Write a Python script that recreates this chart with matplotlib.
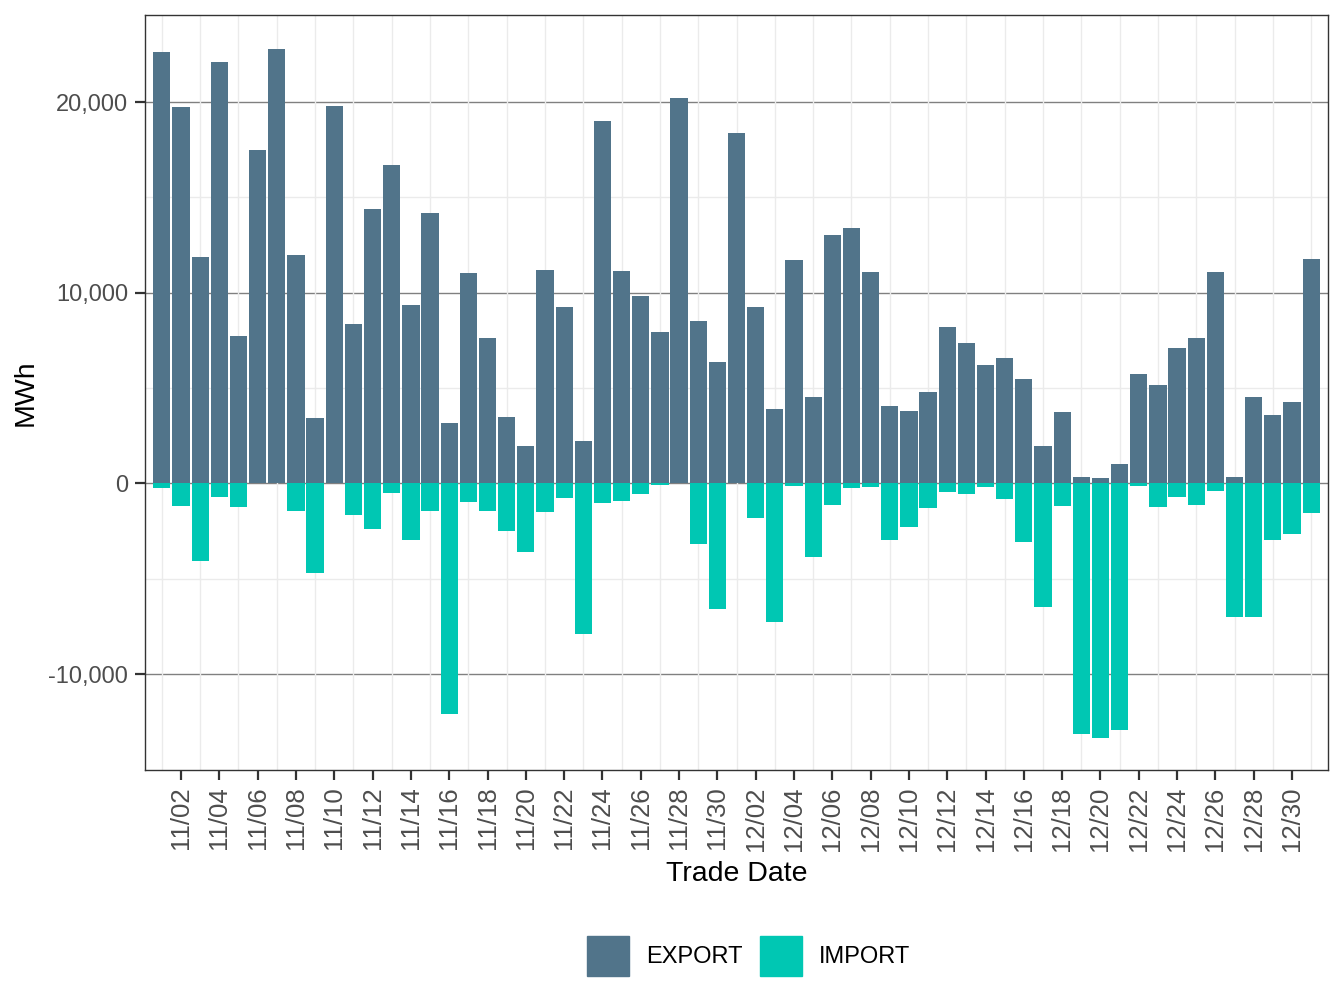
import numpy as np
import matplotlib
matplotlib.use("Agg")
import matplotlib.pyplot as plt
import matplotlib.patches as mpatches
import pandas as pd

plt.rcParams['font.family'] = ['Liberation Sans', 'DejaVu Sans']

# trade dates 11/01 .. 12/31
dates = pd.date_range("2020-11-01", "2020-12-31", freq="D")

# net export per day (MWh)
export_mwh = [
    22620, 19740, 11870, 22100, 7730, 17480, 22780, 11970, 3420, 19790,
    8360, 14390, 16690, 9360, 14180, 3160, 11030, 7620, 3470, 1950,
    11190, 9250, 2220, 19000, 11140, 9830, 7940, 20210, 8520, 6370,
    18370, 9250, 3900, 11710, 4530, 13030, 13390, 11090, 4060, 3800,
    4790, 8200, 7360, 6200, 6570, 5470, 1950, 3750, 330, 280,
    1010, 5730, 5160, 7100, 7620, 11090, 330, 4530, 3580, 4260,
    11760,
]

# net import per day (MWh, negative)
import_mwh = [
    -230, -1170, -4060, -700, -1230, 0, 0, -1440, -4690, 0,
    -1650, -2380, -490, -2960, -1440, -12080, -960, -1440, -2490, -3590,
    -1490, -750, -7890, -1020, -910, -550, -70, 0, -3170, -6580,
    0, -1800, -7260, -120, -3850, -1120, -230, -180, -2960, -2280,
    -1280, -440, -540, -180, -810, -3060, -6470, -1170, -13130, -13340,
    -12920, -120, -1230, -700, -1120, -390, -7000, -7000, -2960, -2640,
    -1540,
]

export_color = "#51748A"
import_color = "#00C7B3"

x = np.arange(len(dates))
tick_pos = x[1::2]
tick_labels = [d.strftime("%m/%d") for d in dates[1::2]]

fig = plt.figure(figsize=(13.44, 10.08), dpi=100)
ax = fig.add_axes([0.1079, 0.2361, 0.8802, 0.749])

# grid, ggplot style
for yv in [-5000, 5000, 15000]:
    ax.axhline(yv, color="#EBEBEB", lw=1.0, zorder=0)
for yv in [-10000, 0, 10000, 20000]:
    ax.axhline(yv, color="#808080", lw=1.0, zorder=0)
for xv in x[0::2]:
    ax.axvline(xv, color="#EBEBEB", lw=1.0, zorder=0)

ax.bar(x, export_mwh, width=0.9, color=export_color, zorder=2)
ax.bar(x, import_mwh, width=0.9, color=import_color, zorder=2)

ax.set_xlim(-0.88, len(dates) - 1 + 0.88)
ax.set_ylim(-15030, 24570)

ax.set_xticks(tick_pos)
ax.set_xticklabels(tick_labels, rotation=90, fontsize=18.5, color="#4D4D4D")
ax.set_yticks([-10000, 0, 10000, 20000])
ax.set_yticklabels(["-10,000", "0", "10,000", "20,000"], fontsize=17, color="#4D4D4D")
ax.tick_params(axis="both", length=7, width=1.6, color="#333333", pad=5)

for s in ax.spines.values():
    s.set_color("#333333")
    s.set_linewidth(1.0)

ax.set_xlabel("Trade Date", fontsize=20.5, labelpad=7)
ax.set_ylabel("MWh", fontsize=20.5, labelpad=7)

handles = [mpatches.Patch(color=export_color, label="EXPORT"),
           mpatches.Patch(color=import_color, label="IMPORT")]
fig.legend(handles=handles, loc="center", bbox_to_anchor=(0.557, 0.0516),
           ncol=2, frameon=False, fontsize=17, handlelength=1.8,
           handleheight=2.2, handletextpad=0.72, columnspacing=0.72)

fig.savefig("out.png", dpi=100)
